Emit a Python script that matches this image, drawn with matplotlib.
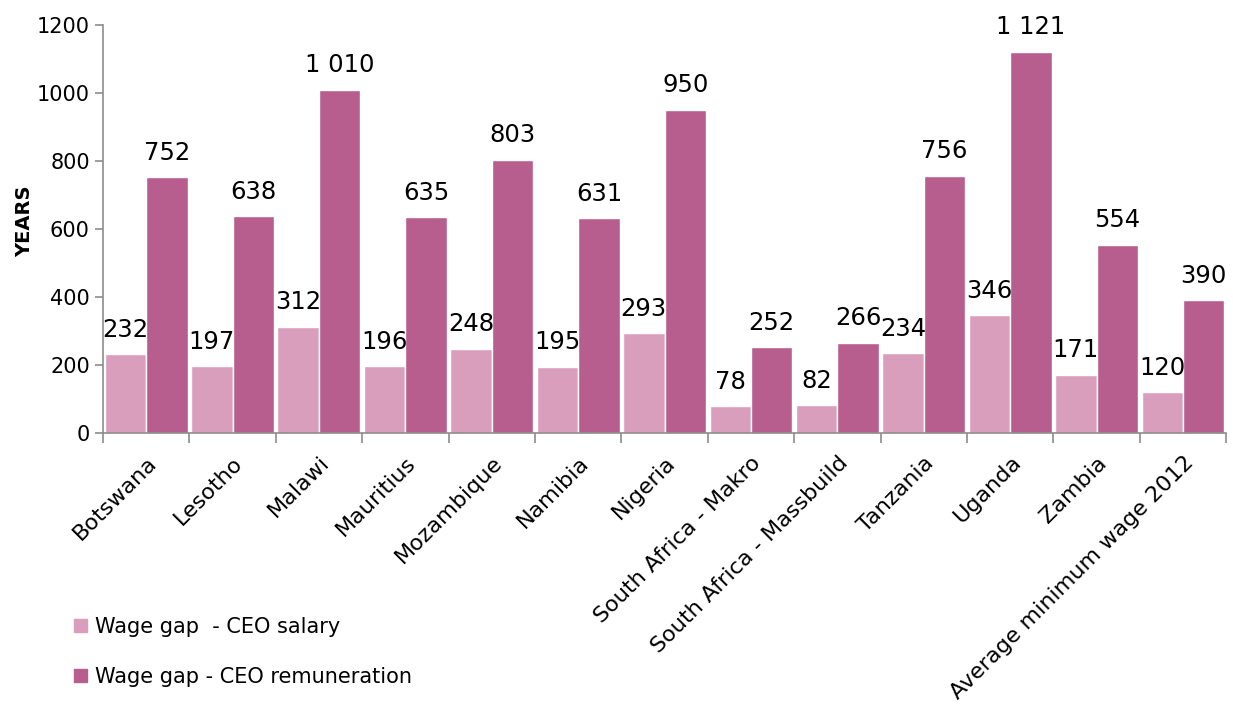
import matplotlib.pyplot as plt
import numpy as np
from matplotlib.patches import Patch

plt.rcParams['font.family'] = ['DejaVu Sans']

# data
countries = ["Botswana", "Lesotho", "Malawi", "Mauritius", "Mozambique", "Namibia",
             "Nigeria", "South Africa - Makro", "South Africa - Massbuild", "Tanzania",
             "Uganda", "Zambia", "Average minimum wage 2012"]
ceo_salary = [232, 197, 312, 196, 248, 195, 293, 78, 82, 234, 346, 171, 120]
ceo_remuneration = [752, 638, 1010, 635, 803, 631, 950, 252, 266, 756, 1121, 554, 390]

light = "#DA9EBD"
dark = "#B85E8F"
grey = "#8C8C8C"

fig = plt.figure(figsize=(12.33, 7.13), dpi=100)
ax = fig.add_axes([0.0835, 0.3927, 0.911, 0.5723])

x = np.arange(len(countries))
w = 0.48
b1 = ax.bar(x - w / 2, ceo_salary, w, color=light, edgecolor="white", linewidth=1)
b2 = ax.bar(x + w / 2, ceo_remuneration, w, color=dark, edgecolor="white", linewidth=1)


def fmt(v):
    return f"{v:,}".replace(",", " ")


for bars, vals in ((b1, ceo_salary), (b2, ceo_remuneration)):
    for r, v in zip(bars, vals):
        ax.annotate(fmt(v), (r.get_x() + r.get_width() / 2, v), xytext=(0, 9),
                    textcoords="offset points", ha="center", va="bottom", fontsize=17.5)

ax.set_xlim(-0.5, len(countries) - 0.5)
ax.set_ylim(0, 1200)
ax.set_yticks(range(0, 1201, 200))
ax.tick_params(axis="y", labelsize=15, color=grey, length=6, width=1.2)
ax.set_xticks(x)
ax.set_xticklabels(countries, rotation=45, ha="right", rotation_mode="anchor", fontsize=16)
ax.tick_params(axis="x", which="major", length=0, pad=14)
ax.set_xticks(np.arange(-0.5, len(countries), 1), minor=True)
ax.tick_params(axis="x", which="minor", length=7, color=grey, width=1.2)

for s in ["top", "right"]:
    ax.spines[s].set_visible(False)
for s in ["left", "bottom"]:
    ax.spines[s].set_color(grey)
    ax.spines[s].set_linewidth(1.2)

ax.set_ylabel("YEARS", fontsize=14, fontweight="bold")
ax.yaxis.set_label_coords(-0.061, 0.52)

handles = [Patch(color=light, label="Wage gap  - CEO salary"),
           Patch(color=dark, label="Wage gap - CEO remuneration")]
fig.legend(handles=handles, loc="lower left", bbox_to_anchor=(0.045, 0.01),
           frameon=False, fontsize=15, handlelength=0.6, handleheight=0.6,
           handletextpad=0.4, labelspacing=1.45)

plt.savefig("out.png", dpi=100)
